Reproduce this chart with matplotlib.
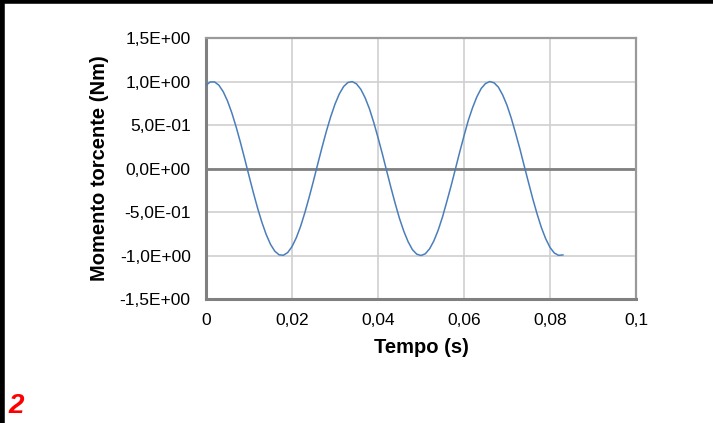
import matplotlib
matplotlib.use('Agg')
import matplotlib.pyplot as plt
from matplotlib.ticker import FuncFormatter
from matplotlib.lines import Line2D

# Tempo (s) e momento torcente (Nm), un punto ogni ms
tempo = [0.000, 0.001, 0.002, 0.003, 0.004, 0.005, 0.006, 0.007, 0.008, 0.009,
         0.010, 0.011, 0.012, 0.013, 0.014, 0.015, 0.016, 0.017, 0.018, 0.019,
         0.020, 0.021, 0.022, 0.023, 0.024, 0.025, 0.026, 0.027, 0.028, 0.029,
         0.030, 0.031, 0.032, 0.033, 0.034, 0.035, 0.036, 0.037, 0.038, 0.039,
         0.040, 0.041, 0.042, 0.043, 0.044, 0.045, 0.046, 0.047, 0.048, 0.049,
         0.050, 0.051, 0.052, 0.053, 0.054, 0.055, 0.056, 0.057, 0.058, 0.059,
         0.060, 0.061, 0.062, 0.063, 0.064, 0.065, 0.066, 0.067, 0.068, 0.069,
         0.070, 0.071, 0.072, 0.073, 0.074, 0.075, 0.076, 0.077, 0.078, 0.079,
         0.080, 0.081, 0.082, 0.083]
momento = [0.958, 0.995, 0.995, 0.958, 0.884, 0.777, 0.641, 0.480, 0.302, 0.112,
           -0.083, -0.274, -0.455, -0.618, -0.758, -0.871, -0.950, -0.992, -0.997, -0.966,
           -0.898, -0.796, -0.665, -0.506, -0.329, -0.141, 0.054, 0.246, 0.429, 0.595,
           0.740, 0.857, 0.942, 0.989, 0.999, 0.973, 0.911, 0.814, 0.688, 0.532,
           0.356, 0.171, -0.024, -0.217, -0.402, -0.574, -0.720, -0.841, -0.932, -0.984,
           -1.000, -0.980, -0.923, -0.831, -0.708, -0.557, -0.381, -0.199, -0.006, 0.189,
           0.375, 0.553, 0.700, 0.825, 0.920, 0.977, 1.000, 0.985, 0.935, 0.845,
           0.727, 0.578, 0.406, 0.226, 0.031, -0.160, -0.349, -0.522, -0.679, -0.807,
           -0.907, -0.971, -0.998, -0.993]

xticks = [0, 0.02, 0.04, 0.06, 0.08, 0.1]
yticks = [-1.5, -1.0, -0.5, 0.0, 0.5, 1.0, 1.5]

plt.rcParams['font.family'] = ['Liberation Sans', 'DejaVu Sans']

fig = plt.figure(figsize=(7.13, 4.23), dpi=100)
ax = fig.add_axes([0.2889, 0.2931, 0.6031, 0.6170])

ax.plot(tempo, momento, color='#4a7ebb', lw=1.1, zorder=3)
ax.axhline(0, color='#808080', lw=2.0, zorder=2)

ax.set_xlim(0, 0.1)
ax.set_ylim(-1.5, 1.5)
ax.set_xticks(xticks)
ax.set_yticks(yticks)


def fmt_x(v, pos):
    if abs(v) < 1e-12:
        return '0'
    return ('%g' % round(v, 4)).replace('.', ',')


def fmt_y(v, pos):
    s = '%.1E' % v
    if s.startswith('-0.0'):
        s = s[1:]
    return s.replace('.', ',')


ax.xaxis.set_major_formatter(FuncFormatter(fmt_x))
ax.yaxis.set_major_formatter(FuncFormatter(fmt_y))
ax.tick_params(length=0, labelsize=12.5, colors='black')
ax.tick_params(axis='y', pad=11)
ax.tick_params(axis='x', pad=10)

ax.grid(True, color='#d0d0d0', lw=1.2, zorder=1)
ax.set_axisbelow(True)
for side in ['left', 'bottom']:
    ax.spines[side].set_color('#808080')
    ax.spines[side].set_linewidth(2.2)
for side in ['top', 'right']:
    ax.spines[side].set_color('#9a9a9a')
    ax.spines[side].set_linewidth(1.6)

ax.set_xlabel('Tempo (s)', fontsize=14.5, fontweight='bold', labelpad=7)
ax.set_ylabel('Momento torcente (Nm)', fontsize=14.5, fontweight='bold', labelpad=8)

# cornice nera (sopra e a sinistra)
fig.add_artist(Line2D([0, 1], [0.9965, 0.9965], transform=fig.transFigure,
                      color='black', lw=4))
fig.add_artist(Line2D([0.0025, 0.0025], [0, 1], transform=fig.transFigure,
                      color='black', lw=4))

fig.text(0.012, 0.024, '2', color='red', fontsize=20, fontweight='bold',
         fontstyle='italic')

fig.savefig('out.png', dpi=100)
